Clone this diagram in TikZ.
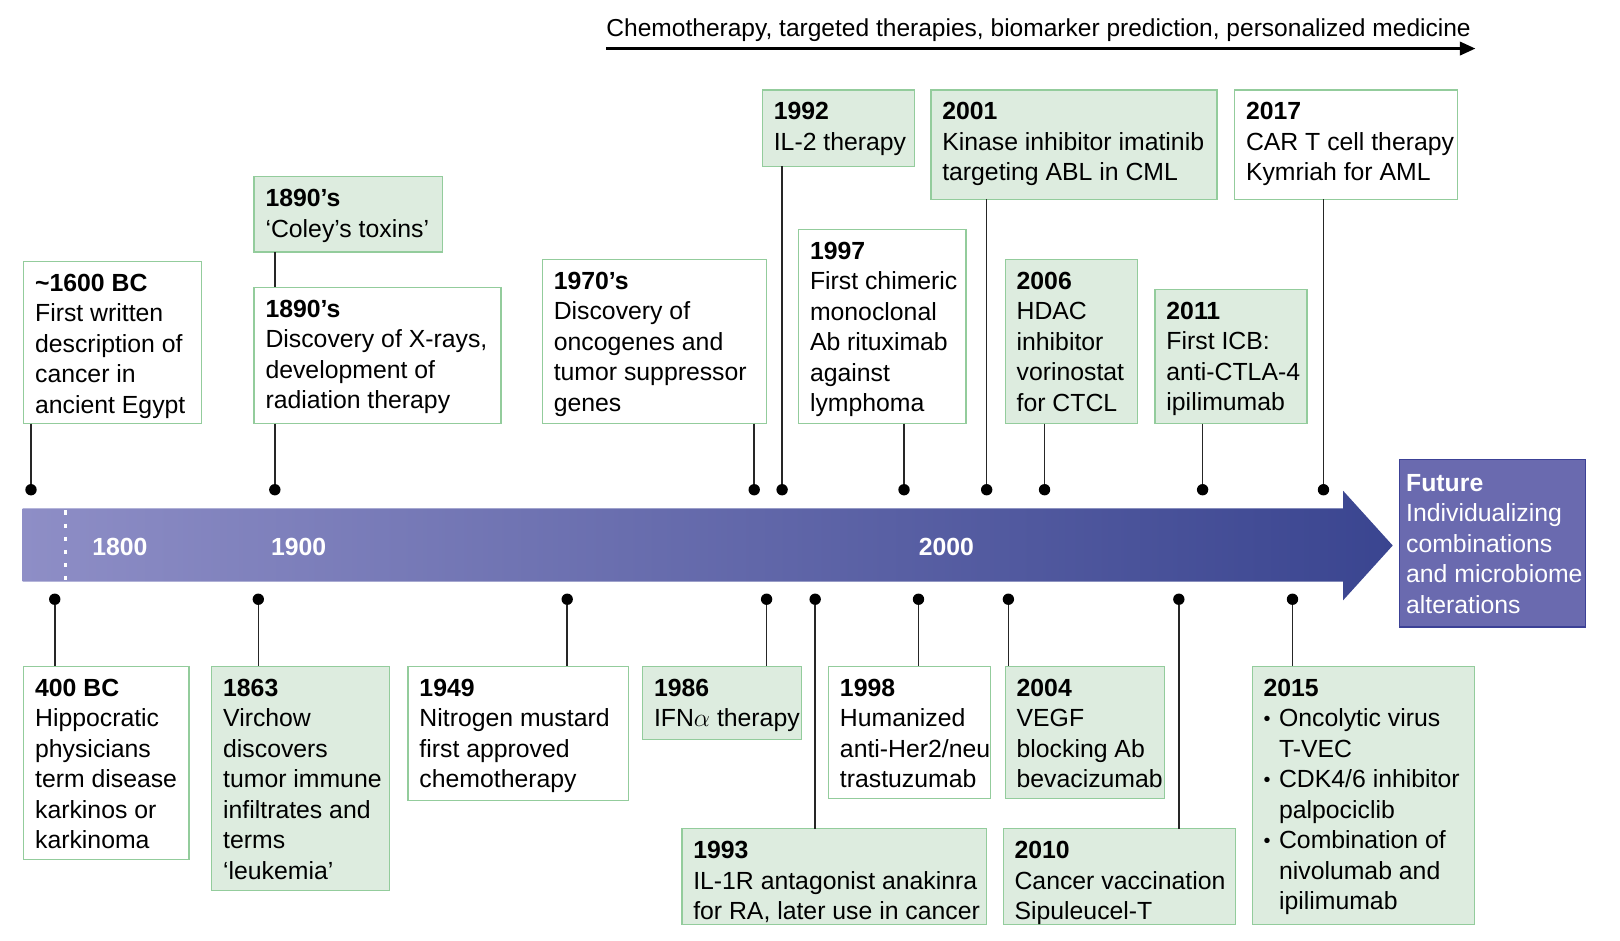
\documentclass[tikz,border=0pt]{standalone}
\usepackage{fontspec}
\setmainfont{Liberation Sans}
\usetikzlibrary{arrows.meta,calc}
\definecolor{gfill}{HTML}{DDECDF}
\definecolor{gline}{HTML}{93CC9C}
\definecolor{barL}{HTML}{8E8EC6}
\definecolor{barR}{HTML}{3A4590}
\definecolor{futfill}{HTML}{6A6AAF}
\definecolor{futline}{HTML}{3C4196}
\tikzset{
 evbox/.style={draw=gline, line width=1.3pt, inner sep=0pt, outer sep=0pt},
 wbox/.style={evbox, fill=white},
 gbox/.style={evbox, fill=gfill},
 txt/.style={inner sep=0pt, outer sep=0pt, align=left, font=\fontsize{24}{29.5}\selectfont, anchor=north west},
 dot/.style={circle, fill=black, inner sep=0pt, minimum size=11pt},
 conn/.style={line width=1.5pt, draw=black!85},
 yr/.style={font=\fontsize{24}{29}\selectfont\bfseries, text=white, inner sep=0pt},
}
\newcommand\evt[8]{%
 \node[#6, minimum width={#4-#2}, minimum height={#5-#3}, anchor=north west] (#1) at (#2,#3) {};
 \node[txt] (#1t) at ([shift={(11pt,-11.5pt)}]#1.north west) {\rule{0pt}{17.5pt}\textbf{#7}\\#8};
}
\newcommand\bul{\makebox[15pt][l]{\raisebox{1pt}{\scalebox{0.8}{•}}}}
\begin{document}
\begin{tikzpicture}[x=1pt,y=-1pt]
\useasboundingbox (0,0) rectangle (1568,910);
% title arrow
\node[txt, anchor=base west, font=\fontsize{23.75}{29}\selectfont] (title) at (587,35) {Chemotherapy, targeted therapies, biomarker prediction, personalized medicine};
\coordinate (as) at (587,47);
\coordinate (ae) at (1428,47);
\draw[line width=2.5pt, -{Triangle[length=15pt,width=13pt]}] (as) -- (ae);
% timeline bar
\shade[left color=barL, right color=barR] (22,492) -- (1300,492) -- (1300,475) -- (1348,528) -- (1300,581) -- (1300,563) -- (22,563) -- cycle;
\coordinate (dA) at (63,494);
\coordinate (dB) at (63,563);
\draw[white, line width=3pt, dash pattern=on 4pt off 8.7pt] (dA) -- (dB);
\node[yr] (y1800) at (116,529) {1800};
\node[yr] (y1900) at (289,529) {1900};
\node[yr] (y2000) at (916,529) {2000};
% future
\node[draw=futline, fill=futfill, line width=1.5pt, minimum width=180pt, minimum height=162pt, anchor=north west, inner sep=0pt] (fut) at (1354,444) {};
\node[txt, text=white] (futt) at ([shift={(7pt,-14pt)}]fut.north west) {\rule{0pt}{17.5pt}\textbf{Future}\\Individualizing\\combinations\\and microbiome\\alterations};
% top events
\evt{b1600}{23}{253}{195}{410}{wbox}{\textasciitilde1600 BC}{First written\\description of\\cancer in\\ancient Egypt}
\evt{bcoley}{246}{171}{428}{244}{gbox}{1890’s}{‘Coley’s toxins’}
\evt{bxray}{246}{278}{485}{410}{wbox}{1890’s}{Discovery of X-rays,\\development of\\radiation therapy}
\evt{b1970}{525}{251}{742}{410}{wbox}{1970’s}{Discovery of\\oncogenes and\\tumor suppressor\\genes}
\evt{b1992}{738}{87}{885}{161}{gbox}{1992}{IL-2 therapy}
\evt{b1997}{773}{222}{935}{410}{wbox}{1997}{First chimeric\\monoclonal\\Ab rituximab\\against\\lymphoma}
\evt{b2001}{901}{87}{1178}{193}{gbox}{2001}{Kinase inhibitor imatinib\\targeting ABL in CML}
\evt{b2006}{973}{251}{1101}{410}{gbox}{2006}{HDAC\\inhibitor\\vorinostat\\for CTCL}
\evt{b2011}{1118}{280}{1265}{410}{gbox}{2011}{First ICB:\\anti-CTLA-4\\ipilimumab}
\evt{b2017}{1195}{87}{1411}{193}{wbox}{2017}{CAR T cell therapy\\Kymriah for AML}
% bottom events
\evt{b400}{23}{645}{183}{832}{wbox}{400 BC}{Hippocratic\\physicians\\term disease\\karkinos or\\karkinoma}
\evt{b1863}{205}{645}{377}{862}{gbox}{1863}{Virchow\\discovers\\tumor immune\\infiltrates and\\terms\\‘leukemia’}
\evt{b1949}{395}{645}{608}{775}{wbox}{1949}{Nitrogen mustard\\first approved\\chemotherapy}
\evt{b1986}{622}{645}{776}{716}{gbox}{1986}{IFN$\alpha$ therapy}
\evt{b1998}{802}{645}{959}{773}{wbox}{1998}{Humanized\\anti-Her2/neu\\trastuzumab}
\evt{b2004}{973}{645}{1127}{773}{gbox}{2004}{VEGF\\blocking Ab\\bevacizumab}
\evt{b1993}{660}{802}{955}{895}{gbox}{1993}{IL-1R antagonist anakinra\\for RA, later use in cancer}
\evt{b2010}{971}{802}{1196}{895}{gbox}{2010}{Cancer vaccination\\Sipuleucel-T}
\evt{b2015}{1212}{645}{1427}{895}{gbox}{2015}{\bul Oncolytic virus\\\hspace*{15pt}T-VEC\\\bul CDK4/6 inhibitor\\\hspace*{15pt}palpociclib\\\bul Combination of\\\hspace*{15pt}nivolumab and\\\hspace*{15pt}ipilimumab}
% dots
\node[dot] (d1600) at (30,474) {};
\node[dot] (dxr) at (266,474) {};
\node[dot] (d1970) at (730,474) {};
\node[dot] (d1992) at (757,474) {};
\node[dot] (d1997) at (875,474) {};
\node[dot] (d2001) at (955,474) {};
\node[dot] (d2006) at (1011,474) {};
\node[dot] (d2011) at (1164,474) {};
\node[dot] (d2017) at (1281,474) {};
\node[dot] (d400) at (53,580) {};
\node[dot] (d1863) at (250,580) {};
\node[dot] (d1949) at (549,580) {};
\node[dot] (d1986) at (742,580) {};
\node[dot] (d1993) at (789,580) {};
\node[dot] (d1998) at (889,580) {};
\node[dot] (d2004) at (976,580) {};
\node[dot] (d2010) at (1141,580) {};
\node[dot] (d2015) at (1251,580) {};
% connectors
\draw[conn] (d1600 |- b1600.south) -- (d1600);
\draw[conn] (dxr |- bcoley.south) -- (dxr |- bxray.north);
\draw[conn] (dxr |- bxray.south) -- (dxr);
\draw[conn] (d1970 |- b1970.south) -- (d1970);
\draw[conn] (d1992 |- b1992.south) -- (d1992);
\draw[conn] (d1997 |- b1997.south) -- (d1997);
\draw[conn] (d2001 |- b2001.south) -- (d2001);
\draw[conn] (d2006 |- b2006.south) -- (d2006);
\draw[conn] (d2011 |- b2011.south) -- (d2011);
\draw[conn] (d2017 |- b2017.south) -- (d2017);
\draw[conn] (d400) -- (d400 |- b400.north);
\draw[conn] (d1863) -- (d1863 |- b1863.north);
\draw[conn] (d1949) -- (d1949 |- b1949.north);
\draw[conn] (d1986) -- (d1986 |- b1986.north);
\draw[conn] (d1993) -- (d1993 |- b1993.north);
\draw[conn] (d1998) -- (d1998 |- b1998.north);
\draw[conn] (d2004) -- (d2004 |- b2004.north);
\draw[conn] (d2010) -- (d2010 |- b2010.north);
\draw[conn] (d2015) -- (d2015 |- b2015.north);
\end{tikzpicture}
\end{document}
